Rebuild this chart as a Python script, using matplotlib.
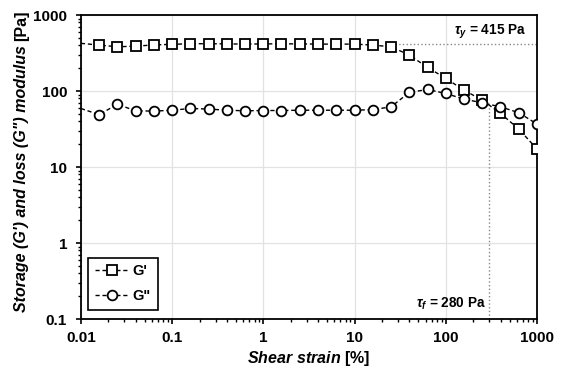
import matplotlib
matplotlib.use("Agg")
import matplotlib.pyplot as plt
from matplotlib.ticker import LogLocator, FixedLocator, FixedFormatter, NullFormatter

plt.rcParams['font.family'] = ['Liberation Sans', 'DejaVu Sans']
plt.rcParams['font.weight'] = 'bold'
plt.rcParams['mathtext.fontset'] = 'custom'
plt.rcParams['mathtext.rm'] = 'Liberation Sans:bold'
plt.rcParams['mathtext.it'] = 'Liberation Sans:italic:bold'
plt.rcParams['mathtext.bf'] = 'Liberation Sans:bold'
plt.rcParams['mathtext.bfit'] = 'Liberation Sans:italic:bold'

# shear strain [%] (first value = line start at the axis, no marker)
strain = [0.01, 0.0158, 0.0251, 0.0398, 0.0631, 0.1, 0.158, 0.251, 0.398, 0.631,
          1.0, 1.58, 2.51, 3.98, 6.31, 10.0, 15.8, 25.1, 39.8, 63.1,
          100.0, 158.0, 251.0, 398.0, 631.0, 1000.0]
g_storage = [425, 403, 383, 390, 405, 412, 420, 420, 418, 415,
             418, 418, 418, 415, 415, 415, 403, 383, 298, 205,
             147, 103, 76, 51, 31.6, 17.3]
g_loss = [59, 49, 67, 55, 54.5, 56, 59, 58, 56, 55,
          55.5, 55.5, 56, 56, 56, 56, 57, 62, 96, 105,
          93, 78.5, 70, 62, 52, 36.8]

yield_stress = 415
flow_strain = 296
flow_top = 67
plateau_start = 28

x_ticks = [0.01, 0.1, 1, 10, 100, 1000]
x_labels = ['0.01', '0.1', '1', '10', '100', '1000']
y_ticks = [0.1, 1, 10, 100, 1000]
y_labels = ['0.1', '1', '10', '100', '1000']

fig = plt.figure(figsize=(5.62, 3.68), dpi=100)
ax = fig.add_axes([0.144, 0.133, 0.8115, 0.826])

style = dict(color='black', linestyle=(0, (3, 2)), linewidth=1.0,
             markerfacecolor='white', markeredgecolor='black',
             markeredgewidth=1.3, markevery=range(1, len(strain)))
ax.plot(strain, g_storage, marker='s', markersize=6.8, label="G'", zorder=4, **style)
ax.plot(strain, g_loss, marker='o', markersize=7, label='G"', zorder=4, **style)

# guide lines
ax.plot([plateau_start, 1000], [yield_stress, yield_stress], color='#888888',
        linestyle=':', linewidth=1.0, zorder=2)
ax.plot([flow_strain, flow_strain], [0.1, flow_top], color='#888888',
        linestyle=':', linewidth=1.0, zorder=2)

ax.set_xscale('log')
ax.set_yscale('log')
ax.set_xlim(0.01, 1000)
ax.set_ylim(0.1, 1000)

ax.xaxis.set_major_locator(FixedLocator(x_ticks))
ax.xaxis.set_major_formatter(FixedFormatter(x_labels))
ax.yaxis.set_major_locator(FixedLocator(y_ticks))
ax.yaxis.set_major_formatter(FixedFormatter(y_labels))
ax.xaxis.set_minor_locator(LogLocator(base=10, subs=range(2, 10), numticks=20))
ax.yaxis.set_minor_locator(LogLocator(base=10, subs=range(2, 10), numticks=20))
ax.xaxis.set_minor_formatter(NullFormatter())
ax.yaxis.set_minor_formatter(NullFormatter())

ax.tick_params(which='major', direction='out', length=3.5, width=1.2, labelsize=11)
ax.tick_params(axis='y', which='major', pad=6.5)
ax.tick_params(axis='x', which='major', pad=5)
ax.tick_params(which='minor', direction='out', length=2.5, width=1.0)
for s in ax.spines.values():
    s.set_linewidth(1.3)
    s.set_color('black')

ax.grid(True, which='major', color='#e2e2e2', linewidth=0.9)
ax.set_axisbelow(True)

ax.set_xlabel(r'$\mathbfit{Shear\ strain}$ [%]', fontsize=11.5, fontweight='bold', labelpad=3)

ax.text(0.977, 0.946, r'$\mathbfit{\tau_y}$ = 415 Pa', transform=ax.transAxes,
        ha='right', va='center', fontsize=9.8, fontweight='bold')
ax.text(275, 0.125, r'$\mathbfit{\tau_f}$ = 280 Pa', ha='right', va='bottom',
        fontsize=9.8, fontweight='bold')

leg = ax.legend(loc='lower left', bbox_to_anchor=(0.016, 0.03), fontsize=10.5,
                handlelength=2.3, fancybox=False, framealpha=1, edgecolor='black',
                borderpad=0.45, labelspacing=0.75, handletextpad=0.3,
                borderaxespad=0)
leg.get_frame().set_linewidth(1.2)

# y label: italic part + upright unit
fig.canvas.draw()
r = fig.canvas.get_renderer()
t1 = fig.text(0.038, 0.152, "Storage (G') and loss (G\") modulus ", rotation=90,
              ha='center', va='bottom', style='italic', fontsize=11.5, fontweight='bold')
bb = t1.get_window_extent(r)
fig.text(0.038, bb.y1 / fig.bbox.height, "[Pa]", rotation=90,
         ha='center', va='bottom', fontsize=11.5, fontweight='bold')

fig.savefig('out.png', dpi=100)
